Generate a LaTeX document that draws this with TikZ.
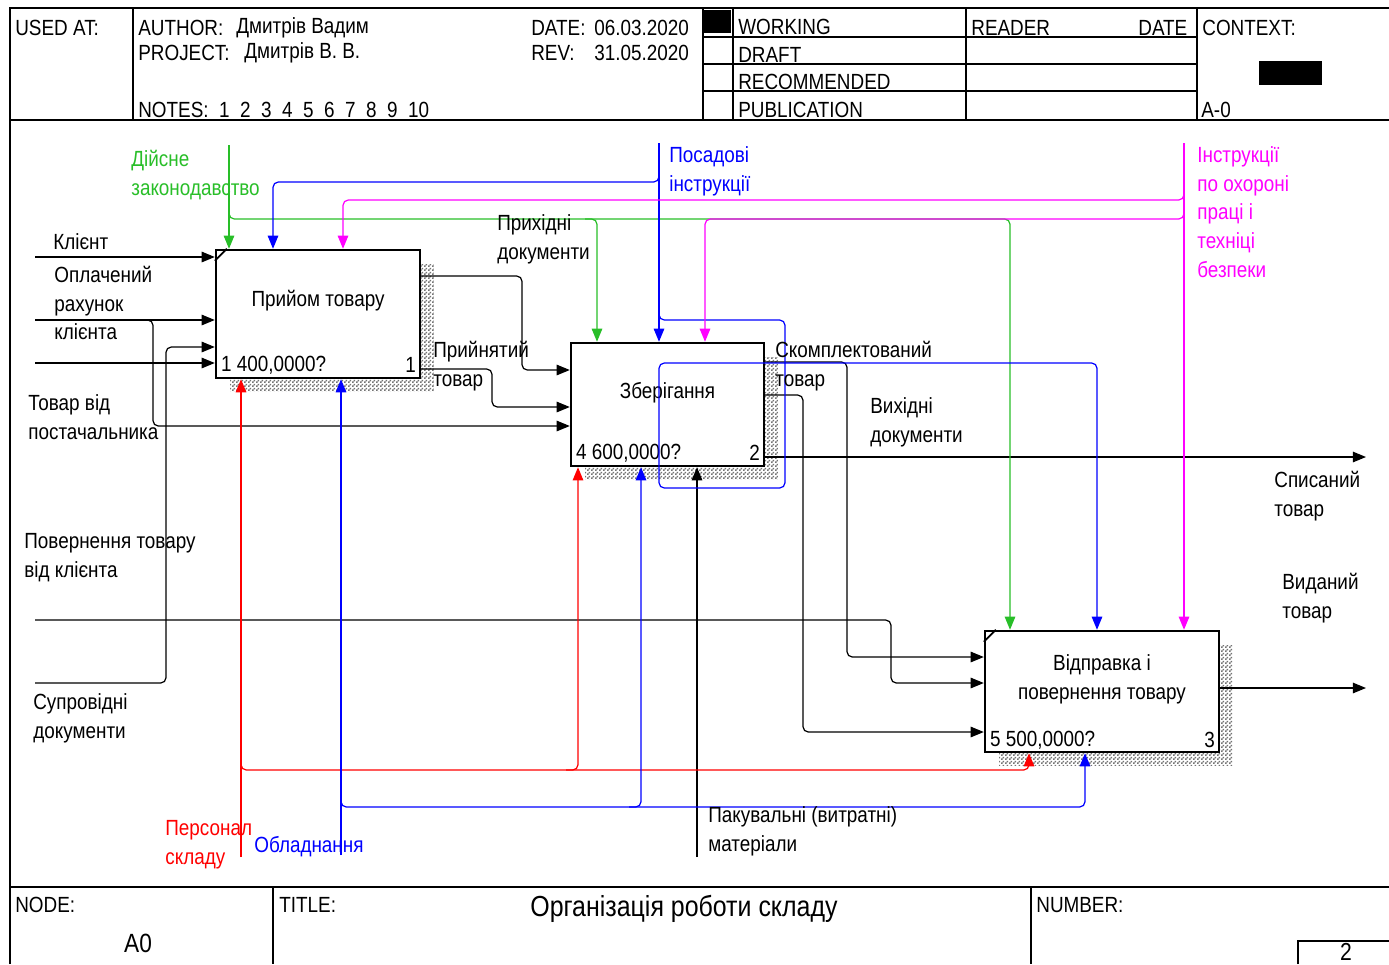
\documentclass[tikz,border=0pt]{standalone}
\usepackage{fontspec}
\setmainfont{Liberation Sans}[FakeStretch=0.86]
\usetikzlibrary{calc}
\usetikzlibrary{patterns}
\usetikzlibrary{shadows}
\usetikzlibrary{arrows.meta}
\definecolor{cgreen}{RGB}{40,190,40}
\definecolor{cblue}{RGB}{0,0,255}
\definecolor{cmag}{RGB}{255,0,255}
\definecolor{cred}{RGB}{255,0,0}
\pgfdeclarepatternformonly{finedots}{\pgfqpoint{0pt}{0pt}}{\pgfqpoint{2pt}{2pt}}{\pgfqpoint{2pt}{2pt}}{
  \pgfpathrectangle{\pgfqpoint{0pt}{0pt}}{\pgfqpoint{1pt}{1pt}}
  \pgfpathrectangle{\pgfqpoint{1pt}{1pt}}{\pgfqpoint{1pt}{1pt}}
  \pgfusepath{fill}}

\begin{document}
\begin{tikzpicture}[x=0.02cm,y=-0.02cm,inner sep=0pt,
  every node/.style={font=\fontsize{12.5}{16.4}\selectfont},
  lbl/.style={anchor=west,align=left},
  actbox/.style={draw,line width=1.4pt,fill=white,
    drop shadow={shadow xshift=0.28cm,shadow yshift=-0.28cm,opacity=1,
      pattern=finedots,pattern color=black!55}},
  arr/.style={line width=0.7pt,rounded corners=3pt,-{Triangle[length=7.5pt,width=6pt]}},
  frm/.style={line width=1pt}]
\useasboundingbox (0,0) rectangle (1389,964);

\draw[frm] (10,964) -- (10,8) -- (1389,8);
\draw[frm] (10,120) -- (1389,120);
\draw[frm] (10,887) -- (1389,887);
\foreach \x in {133,703,733,966,1197} \draw[line width=0.6pt] (\x,8) -- (\x,120);
\foreach \y in {37,64,91} \draw[line width=0.6pt] (703,\y) -- (1197,\y);
\draw[line width=0.6pt] (273,887) -- (273,964);
\draw[line width=0.6pt] (1031,887) -- (1031,964);
\draw[line width=0.6pt] (1298,964) -- (1298,941) -- (1389,941);
\fill (703,10) rectangle (731,33);
\fill (1259,61) rectangle (1322,85);

\node[lbl] (hUsed) at (15,28) {USED AT:};
\node[lbl] (hAuth) at (138,28) {AUTHOR:};
\node[lbl] (hAuthV) at (236,28) {Дмитрів Вадим};
\node[lbl] (hProj) at (138,53) {PROJECT:};
\node[lbl] (hProjV) at (244,53) {Дмитрів В. В.};
\node[lbl] (hNotes) at (138,110) {NOTES:\ \ 1\ \ 2\ \ 3\ \ 4\ \ 5\ \ 6\ \ 7\ \ 8\ \ 9\ \ 10};
\node[lbl] (hDate) at (531,28) {DATE:};
\node[lbl] (hDateV) at (594,28) {06.03.2020};
\node[lbl] (hRev) at (531,53) {REV:};
\node[lbl] (hRevV) at (594,53) {31.05.2020};
\node[lbl] (hWork) at (738,27) {WORKING};
\node[lbl] (hDraft) at (738,55) {DRAFT};
\node[lbl] (hRec) at (738,82) {RECOMMENDED};
\node[lbl] (hPub) at (738,110) {PUBLICATION};
\node[lbl] (hRead) at (971,28) {READER};
\node[lbl] (hRDate) at (1138,28) {DATE};
\node[lbl] (hCtx) at (1202,28) {CONTEXT:};
\node[lbl] (hA) at (1201,110) {A-0};

\node[lbl] (fNode) at (15,905) {NODE:};
\node[font=\fontsize{15}{18}\selectfont] (fA0) at (138,943) {A0};
\node[lbl] (fTitle) at (279,905) {TITLE:};
\node[font=\fontsize{16.5}{19}\selectfont] (fName) at (684,909) {Організація роботи складу};
\node[lbl] (fNum) at (1036,905) {NUMBER:};
\node[font=\fontsize{14}{17}\selectfont] (fPage) at (1346,952) {2};

\node[actbox,minimum width=4.08cm,minimum height=2.56cm] (b1) at (318,314) {};
\node[actbox,minimum width=3.86cm,minimum height=2.46cm] (b2) at (667.5,404.5) {};
\node[actbox,minimum width=4.68cm,minimum height=2.42cm] (b3) at (1102,691.5) {};
\draw[line width=1pt] ($(b1.north west)+(0,12)$) -- ($(b1.north west)+(12,0)$);
\draw[line width=1pt] ($(b3.north west)+(0,12)$) -- ($(b3.north west)+(12,0)$);

\node (t1) at ($(b1.center)+(0,-13)$) {Прийом товару};
\node (t2) at ($(b2.center)+(0,-12)$) {Зберігання};
\node[align=center] (t3) at ($(b3.center)+(0,-12)$) {Відправка і\\повернення товару};
\node[anchor=west] (c1) at ($(b1.south west)+(6,-14)$) {1 400,0000?};
\node[anchor=east] (n1) at ($(b1.south east)+(-5,-14)$) {1};
\node[anchor=west] (c2) at ($(b2.south west)+(6,-14)$) {4 600,0000?};
\node[anchor=east] (n2) at ($(b2.south east)+(-5,-14)$) {2};
\node[anchor=west] (c3) at ($(b3.south west)+(6,-13)$) {5 500,0000?};
\node[anchor=east] (n3) at ($(b3.south east)+(-5,-13)$) {3};

\coordinate (iClient) at (35,257);
\coordinate (iPaid) at (35,320);
\coordinate (iGoods) at (35,363);
\coordinate (iRet) at (35,620);
\coordinate (iDocs) at (35,683);
\coordinate (oWrite) at (1366,457);
\coordinate (oIssued) at (1366,688);
\coordinate (cLaw) at (229,145);
\coordinate (cJob) at (659,143);
\coordinate (cSafe) at (1184,143);
\coordinate (mStaff) at (241,857);
\coordinate (mEquip) at (341,855);
\coordinate (mPack) at (697,857);

\draw[arr] (iClient) -- (iClient -| b1.west);
\draw[arr] (iPaid) -- (iPaid -| b1.west);
\draw[arr] (iGoods) -- (iGoods -| b1.west);
\draw[arr] (140,320) -- (153,320) -- (153,426) -- (b2.west |- 0,426);
\draw[arr] (iDocs) -- (166,683) -- (166,347) -- (b1.west |- 0,347);
\draw[arr] (iRet) -- (891,620) -- (891,683) -- (b3.west |- 0,683);
\draw[arr] (b1.east |- 0,276) -- (522,276) -- (522,370) -- (b2.west |- 0,370);
\draw[arr] (b1.east |- 0,369) -- (492,369) -- (492,407) -- (b2.west |- 0,407);
\draw[arr] (b2.east |- 0,362) -- (847,362) -- (847,657) -- (b3.west |- 0,657);
\draw[arr] (b2.east |- 0,395) -- (803,395) -- (803,732) -- (b3.west |- 0,732);
\draw[arr] (b2.east |- 0,457) -- (oWrite);
\draw[arr] (b3.east |- 0,688) -- (oIssued);
\draw[arr] (mPack) -- (mPack |- b2.south);

\draw[arr,cgreen] (cLaw) -- (cLaw |- b1.north);
\draw[arr,cgreen] (229,200) -- (229,219) -- (1010,219) -- (1010,0 |- b3.north);
\draw[arr,cgreen] (585,219) -- (597,219) -- (597,0 |- b2.north);

\draw[arr,cblue] (cJob) -- (cJob |- b2.north);
\draw[arr,cblue] (659,168) -- (659,182) -- (273,182) -- (273,0 |- b1.north);
\draw[arr,cblue] (659,308) -- (659,320) -- (785,320) -- (785,488) -- (659,488) -- (659,363) -- (1097,363) -- (1097,0 |- b3.north);

\draw[arr,cmag] (cSafe) -- (cSafe |- b3.north);
\draw[arr,cmag] (1184,188) -- (1184,200) -- (343,200) -- (343,0 |- b1.north);
\draw[arr,cmag] (1184,207) -- (1184,219) -- (705,219) -- (705,0 |- b2.north);

\draw[arr,cred] (mStaff) -- (mStaff |- b1.south);
\draw[arr,cred] (241,758) -- (241,770) -- (1029,770) -- (1029,0 |- b3.south);
\draw[arr,cred] (566,770) -- (578,770) -- (578,0 |- b2.south);

\draw[arr,cblue] (mEquip) -- (mEquip |- b1.south);
\draw[arr,cblue] (341,795) -- (341,807) -- (1085,807) -- (1085,0 |- b3.south);
\draw[arr,cblue] (629,807) -- (641,807) -- (641,0 |- b2.south);

\node[lbl] (lClient) at (53,242) {Клієнт};
\node[lbl] (lPaid) at (54,303) {Оплачений\\рахунок\\клієнта};
\node[lbl] (lGoods) at (28,417) {Товар від\\постачальника};
\node[lbl] (lRet) at (24,558) {Повернення товару\\від клієнта};
\node[lbl] (lDocs) at (33,718) {Супровідні\\документи};
\node[lbl,text=cgreen] (lLaw) at (131,175) {Дійсне\\законодавство};
\node[lbl,text=cblue] (lJob) at (669,171) {Посадові\\інструкції};
\node[lbl,text=cmag] (lSafe) at (1197,212) {Інструкції\\по охороні\\праці і\\техніці\\безпеки};
\node[lbl] (lIn) at (497,239) {Прихідні\\документи};
\node[lbl] (lAcc) at (433,366) {Прийнятий\\товар};
\node[lbl] (lSet) at (775,366) {Скомплектований\\товар};
\node[lbl] (lOut) at (870,422) {Вихідні\\документи};
\node[lbl] (lWrite) at (1274,496) {Списаний\\товар};
\node[lbl] (lIssued) at (1282,598) {Виданий\\товар};
\node[lbl,text=cred] (lStaff) at (165,845) {Персонал\\складу};
\node[lbl,text=cblue] (lEquip) at (254,847) {Обладнання};
\node[lbl] (lPack) at (708,831) {Пакувальні (витратні)\\матеріали};
\end{tikzpicture}
\end{document}
